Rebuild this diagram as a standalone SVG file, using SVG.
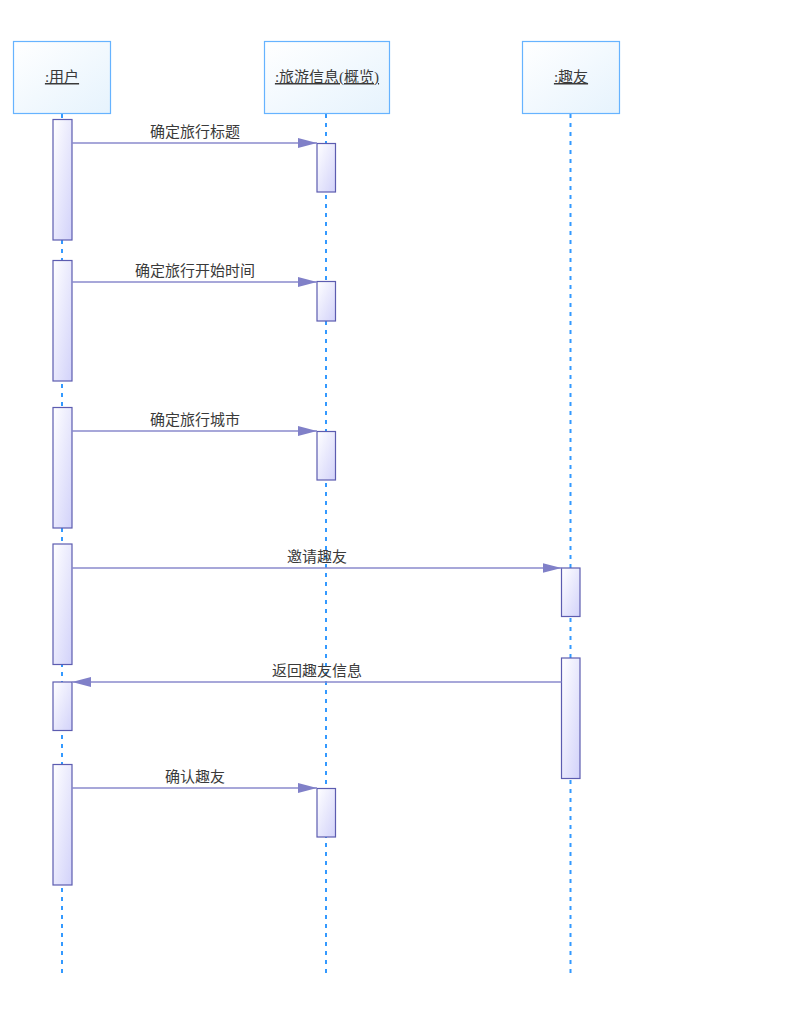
<svg xmlns="http://www.w3.org/2000/svg" width="786" height="1009" viewBox="0 0 786 1009">
<style>
.obj{fill:url(#objG);stroke:#66b3ff;stroke-width:1.2}
.life{stroke:#3399ff;stroke-width:2;stroke-dasharray:4,5;fill:none}
.act{fill:url(#actG);stroke:#5c5cb0;stroke-width:1.2}
.msg{stroke:#8a8acc;stroke-width:1.6;fill:none}
.t{font-family:"Liberation Serif","Noto Sans CJK SC",serif;font-size:15px;fill:#3a3a3a;text-anchor:middle}
.h{text-decoration:underline}
</style>
<defs>
<linearGradient id="objG" x1="0" y1="0" x2="1" y2="1"><stop offset="0" stop-color="#ffffff"/><stop offset="1" stop-color="#e6f3fd"/></linearGradient>
<linearGradient id="actG" x1="0" y1="0" x2="1" y2="1"><stop offset="0" stop-color="#ffffff"/><stop offset="1" stop-color="#d2d2fa"/></linearGradient>
<marker id="arr" markerWidth="19" markerHeight="10" refX="19" refY="5" orient="auto" markerUnits="userSpaceOnUse"><path d="M0,0 L19,5 L0,10 Z" fill="#8080c8"/></marker>
</defs>
<g id="lifelines">
<line class="life" x1="62" y1="114" x2="62" y2="973"/>
<line class="life" x1="326" y1="114" x2="326" y2="973"/>
<line class="life" x1="570.5" y1="114" x2="570.5" y2="973"/>
</g>
<g id="user">
<rect class="obj" x="13.5" y="41.5" width="97" height="72"/>
<text class="t h" x="62" y="82">:用户</text>
</g>
<g id="travel">
<rect class="obj" x="264.5" y="41.5" width="125" height="72"/>
<text class="t h" x="327" y="82">:旅游信息(概览)</text>
</g>
<g id="friend">
<rect class="obj" x="522.5" y="41.5" width="97" height="72"/>
<text class="t h" x="571" y="82">:趣友</text>
</g>
<g id="activations">
<rect class="act" x="53" y="119.5" width="19" height="120.5"/>
<rect class="act" x="53" y="260.5" width="19" height="120.5"/>
<rect class="act" x="53" y="407.5" width="19" height="120.5"/>
<rect class="act" x="53" y="544" width="19" height="120.5"/>
<rect class="act" x="53" y="682" width="19" height="48.5"/>
<rect class="act" x="53" y="764.5" width="19" height="120.5"/>
<rect class="act" x="317" y="143.5" width="18.5" height="48.5"/>
<rect class="act" x="317" y="281.5" width="18.5" height="39.5"/>
<rect class="act" x="317" y="431.5" width="18.5" height="48.5"/>
<rect class="act" x="317" y="788.5" width="18.5" height="48.5"/>
<rect class="act" x="561.5" y="568" width="18.5" height="48.5"/>
<rect class="act" x="561.5" y="658" width="18.5" height="120.5"/>
</g>
<g id="connectors">
<line class="msg" x1="72" y1="143" x2="317" y2="143" marker-end="url(#arr)"/>
<text class="t" x="195" y="137">确定旅行标题</text>
<line class="msg" x1="72" y1="282" x2="317" y2="282" marker-end="url(#arr)"/>
<text class="t" x="195" y="276">确定旅行开始时间</text>
<line class="msg" x1="72" y1="431" x2="317" y2="431" marker-end="url(#arr)"/>
<text class="t" x="195" y="425">确定旅行城市</text>
<line class="msg" x1="72" y1="568" x2="561.5" y2="568" marker-end="url(#arr)"/>
<text class="t" x="317" y="562">邀请趣友</text>
<line class="msg" x1="561.5" y1="682" x2="72" y2="682" marker-end="url(#arr)"/>
<text class="t" x="317" y="676">返回趣友信息</text>
<line class="msg" x1="72" y1="788" x2="317" y2="788" marker-end="url(#arr)"/>
<text class="t" x="195" y="782">确认趣友</text>
</g>
</svg>
